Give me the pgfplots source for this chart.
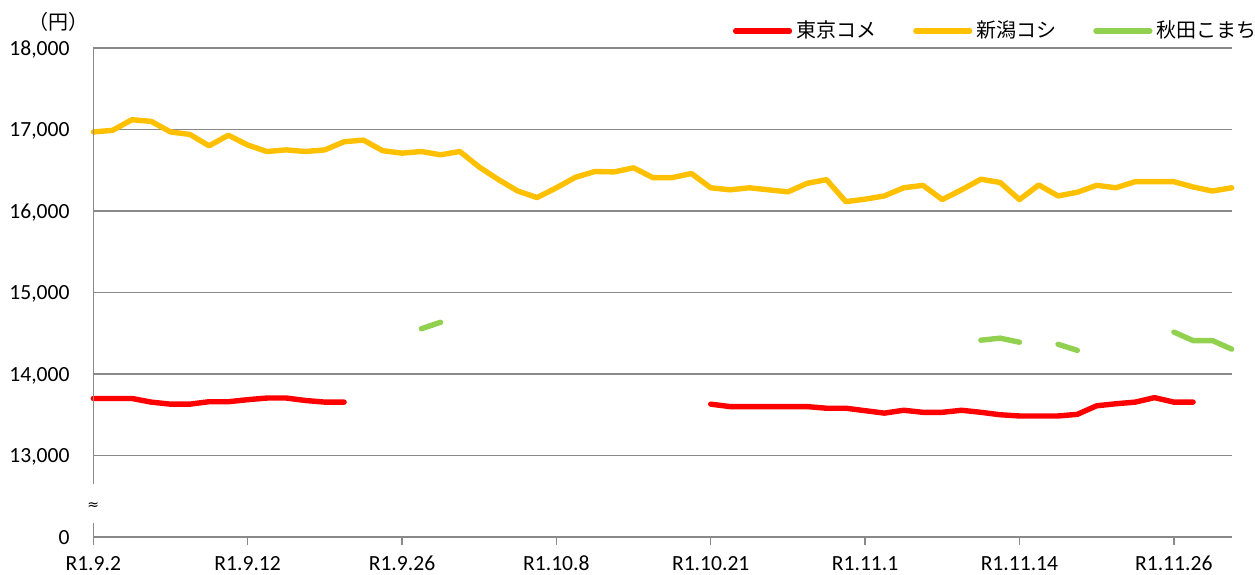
\documentclass[border=0pt]{standalone}
\usepackage{pgfplots}
\pgfplotsset{compat=1.18}
\usepackage{pgfplotstable}
\usepackage{fontspec}
\setmainfont{Carlito}
\newfontfamily\cjk{Noto Sans CJK JP}
\newfontfamily\dejavu{DejaVu Sans}
\definecolor{cRed}{HTML}{FF0000}
\definecolor{cYel}{HTML}{FFC000}
\definecolor{cGrn}{HTML}{92D050}
\definecolor{cGrid}{HTML}{898989}

\pgfplotstableread{
x y
0 13700
1 13700
2 13700
3 13655
4 13630
5 13630
6 13660
7 13660
8 13685
9 13705
10 13705
11 13675
12 13655
13 13655
14 nan
32 13630
33 13600
34 13600
35 13600
36 13600
37 13600
38 13580
39 13580
40 13550
41 13520
42 13555
43 13530
44 13530
45 13555
46 13530
47 13500
48 13485
49 13485
50 13485
51 13505
52 13610
53 13635
54 13655
55 13710
56 13655
57 13655
}\tokyo

\pgfplotstableread{
x y
0 16970
1 16990
2 17120
3 17100
4 16970
5 16940
6 16800
7 16930
8 16810
9 16730
10 16750
11 16730
12 16750
13 16850
14 16870
15 16740
16 16710
17 16730
18 16690
19 16730
20 16540
21 16385
22 16245
23 16165
24 16285
25 16415
26 16485
27 16480
28 16530
29 16410
30 16410
31 16460
32 16285
33 16260
34 16285
35 16260
36 16235
37 16340
38 16385
39 16115
40 16145
41 16185
42 16285
43 16315
44 16140
45 16260
46 16390
47 16350
48 16140
49 16320
50 16185
51 16230
52 16315
53 16285
54 16360
55 16360
56 16360
57 16295
58 16245
59 16285
}\niigata

\pgfplotstableread{
x y
17 14555
18 14635
19 nan
46 14415
47 14440
48 14390
49 nan
50 14365
51 14290
52 nan
56 14515
57 14410
58 14410
59 14305
}\akita

\begin{document}
\begin{tikzpicture}
\path[use as bounding box] (-46.65pt,-18.5pt) rectangle (580.85pt,268.5pt);
\begin{axis}[
  at={(0pt,0pt)}, anchor=south west,
  scale only axis, width=569.2pt, height=244.5pt,
  xmin=0, xmax=59, ymin=12000, ymax=18000,
  clip=false,
  axis line style={draw=none},
  scaled y ticks=false,
  xtick pos=bottom, ytick pos=left,
  xtick={0,8,...,56},
  xticklabels={R1.9.2,R1.9.12,R1.9.26,R1.10.8,R1.10.21,R1.11.1,R1.11.14,R1.11.26},
  ytick={12000,13000,...,18000},
  yticklabels={0,{13,000},{14,000},{15,000},{16,000},{17,000},{18,000}},
  ymajorgrids, grid style={cGrid, line width=0.75pt},
  tick align=outside,
  xtick style={cGrid, line width=0.75pt},
  major tick length=4pt,
  ytick style={draw=none},
  ticklabel style={font=\fontsize{10.8}{12}\selectfont, text=black},
  yticklabel style={anchor=east, inner sep=0pt, text depth=0pt, xshift=-7.7pt},
  xticklabel style={anchor=north, inner sep=0pt, text depth=0pt, text height=7pt, yshift=-5.5pt},
  unbounded coords=jump,
  legend columns=3,
  legend style={at={(1.0257,1.0348)}, anchor=east, draw=none, fill=none, inner sep=0pt,
    font=\cjk\fontsize{10}{12}\selectfont,
    /tikz/every even column/.append style={column sep=16.5pt}},
  legend image code/.code={\draw[#1, line width=2.6pt, line cap=round] (0pt,0pt) -- (27pt,0pt);},
  every axis plot/.append style={line width=2.7pt, line join=round, line cap=round},
]
\addplot[cRed, no markers] table {\tokyo};
\addlegendentry{東京コメ}
\addplot[cYel, no markers] table {\niigata};
\addlegendentry{新潟コシ}
\addplot[cGrn, no markers] table {\akita};
\addlegendentry{秋田こまち}
\draw[cGrid, line width=0.75pt] (axis cs:0,18000) -- (axis cs:0,12650);
\draw[cGrid, line width=0.75pt] (axis cs:0,12172) -- (axis cs:0,12000);
\node[font=\dejavu\fontsize{7}{8}\selectfont, text=black, inner sep=0pt] at (axis cs:0,12380) {≈};
\end{axis}
\node[font=\cjk\fontsize{10}{12}\selectfont, inner sep=0pt] at (-17.4pt,257.5pt) {（円）};
\end{tikzpicture}
\end{document}
